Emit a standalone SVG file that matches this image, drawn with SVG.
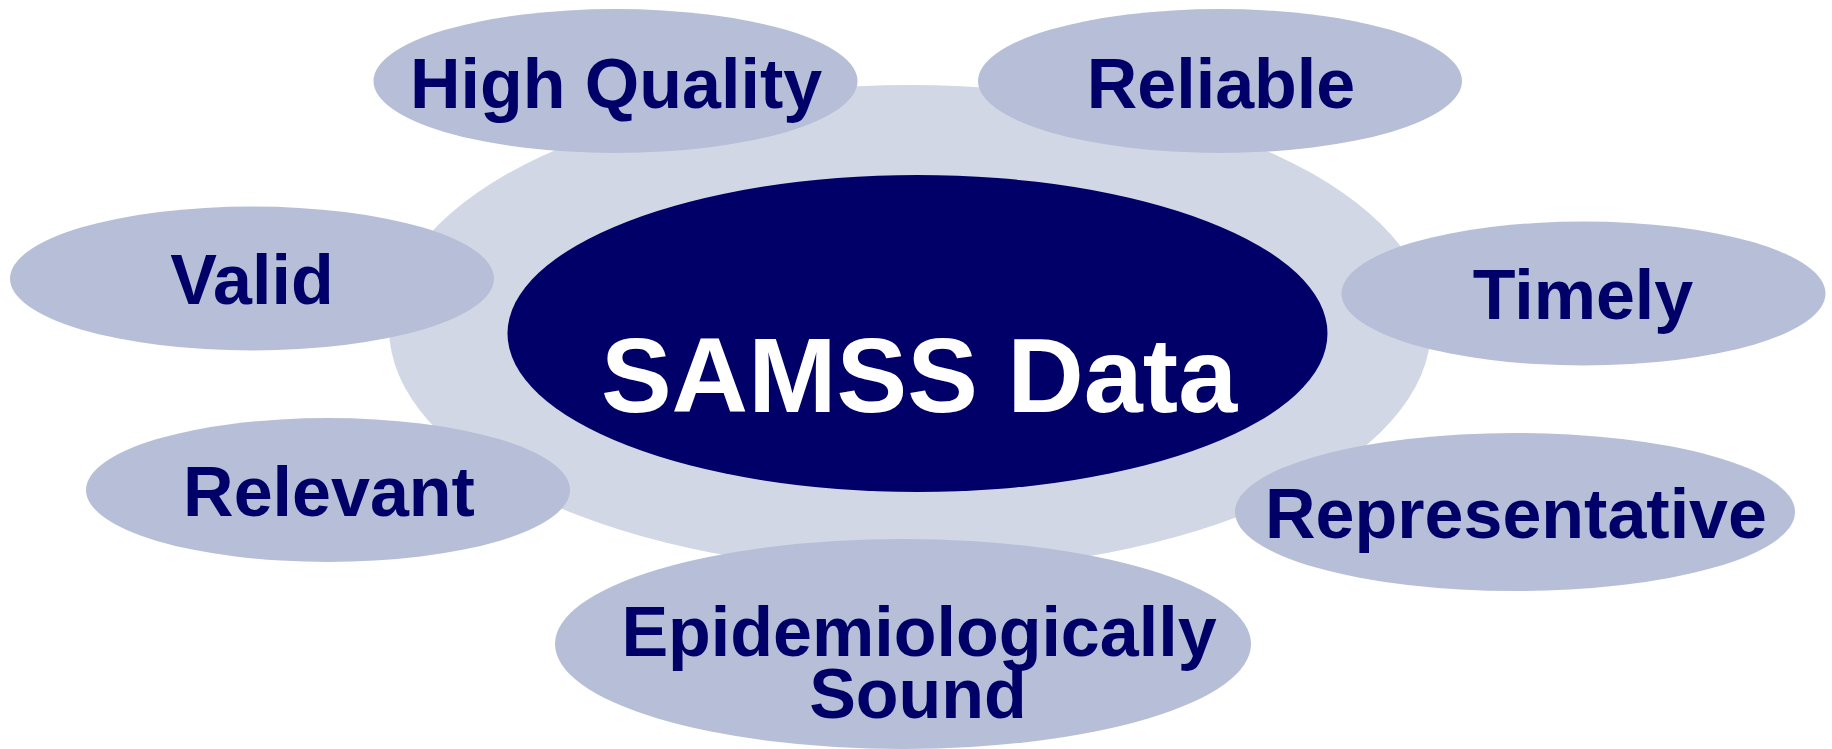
<svg xmlns="http://www.w3.org/2000/svg" width="1832" height="749" viewBox="0 0 1832 749">
  <style>
    .sat { fill: #B6BFD7; }
    .lbl { font-family: "Liberation Sans", Arial, sans-serif; font-weight: bold; font-size: 70px; fill: #000068; text-anchor: middle; }
    .core-lbl { font-family: "Liberation Sans", Arial, sans-serif; font-weight: bold; font-size: 106px; fill: #FFFFFF; text-anchor: middle; }
  </style>
  <rect width="1832" height="749" fill="#FFFFFF"/>

  <!-- halo behind the core -->
  <g id="halo">
    <ellipse cx="910" cy="328" rx="521" ry="243" fill="#D1D7E5"/>
  </g>

  <!-- core -->
  <g id="samss-data">
    <ellipse cx="917.5" cy="333.5" rx="410" ry="158.5" fill="#000068"/>
    <text class="core-lbl" x="919" y="412">SAMSS Data</text>
  </g>

  <!-- attributes -->
  <g id="high-quality">
    <ellipse class="sat" cx="615.5" cy="81" rx="242" ry="72"/>
    <text class="lbl" x="616" y="108">High Quality</text>
  </g>
  <g id="reliable">
    <ellipse class="sat" cx="1220" cy="81" rx="242" ry="72"/>
    <text class="lbl" x="1221" y="108">Reliable</text>
  </g>
  <g id="valid">
    <ellipse class="sat" cx="252" cy="278.5" rx="242" ry="72"/>
    <text class="lbl" x="252" y="304">Valid</text>
  </g>
  <g id="timely">
    <ellipse class="sat" cx="1583.5" cy="293.5" rx="242" ry="72"/>
    <text class="lbl" x="1583" y="319">Timely</text>
  </g>
  <g id="relevant">
    <ellipse class="sat" cx="328" cy="490" rx="242" ry="72"/>
    <text class="lbl" x="329" y="516">Relevant</text>
  </g>
  <g id="representative">
    <ellipse class="sat" cx="1515" cy="512" rx="280" ry="79"/>
    <text class="lbl" x="1516" y="538">Representative</text>
  </g>
  <g id="epidemiologically-sound">
    <ellipse class="sat" cx="903" cy="644" rx="348" ry="105"/>
    <text class="lbl"><tspan x="919" y="656">Epidemiologically</tspan><tspan x="918" y="718">Sound</tspan></text>
  </g>
</svg>
